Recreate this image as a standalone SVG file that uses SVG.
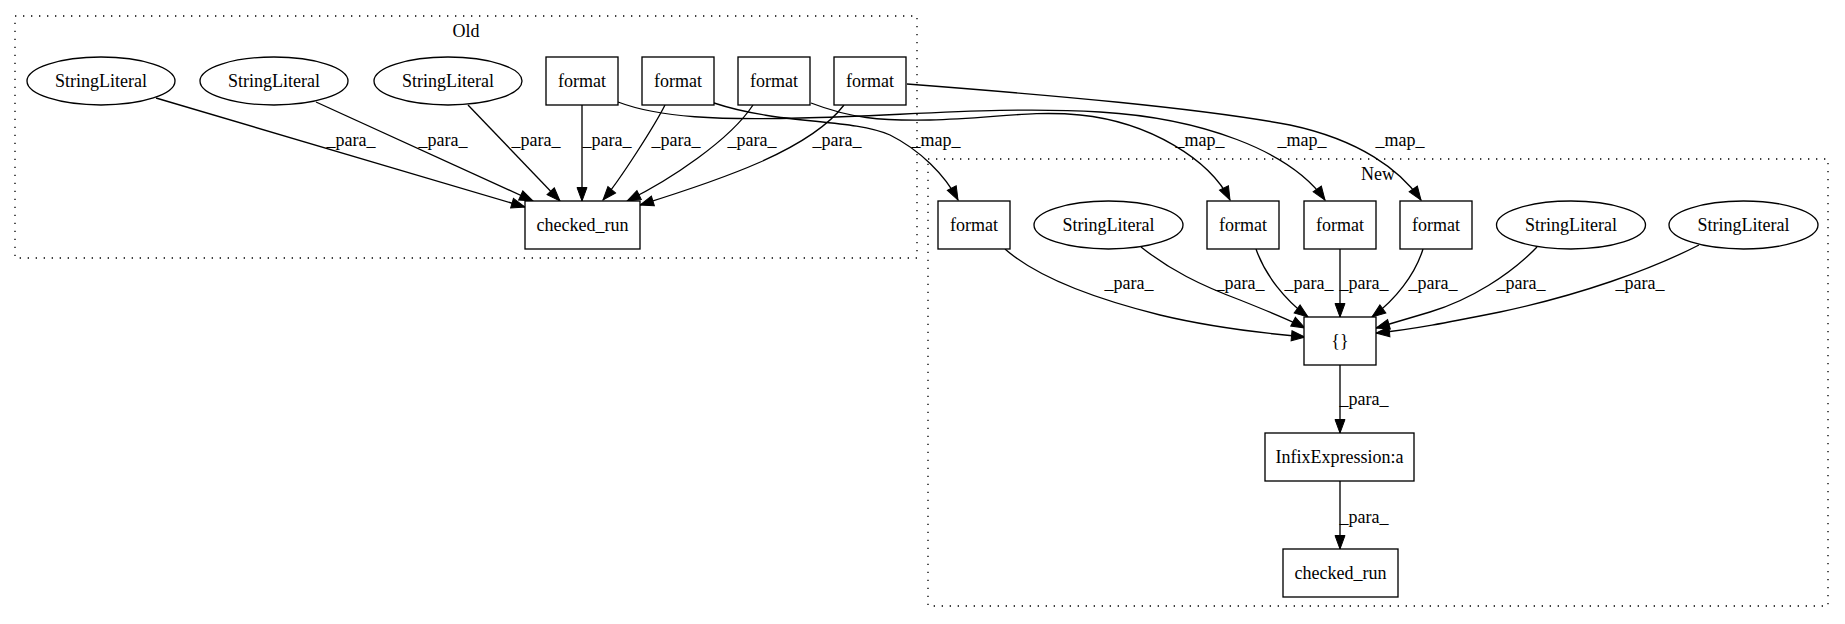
<svg xmlns="http://www.w3.org/2000/svg" width="1845" height="624" viewBox="0 0 1845 624">
<style>
text{font-family:"Liberation Serif","Times New Roman",serif;font-size:18px;fill:#000;text-anchor:middle}
.cl{fill:none;stroke:#000;stroke-width:1.33;stroke-dasharray:1.33,6.67}
.n{fill:#fff;stroke:#000;stroke-width:1.33}
.e{fill:none;stroke:#000;stroke-width:1.33;marker-end:url(#ah)}
</style>
<defs>
<marker id="ah" markerUnits="userSpaceOnUse" markerWidth="14" markerHeight="10" refX="13.5" refY="5" orient="auto" overflow="visible">
<path d="M0,0 L13.5,5 L0,10 z" fill="#000" stroke="#000" stroke-width="1"/>
</marker>
</defs>
<rect width="1845" height="624" fill="#fff"/>
<g id="cluster_old">
<rect class="cl" x="15" y="16" width="902" height="242"/>
<text x="466" y="37">Old</text>
</g>
<g id="cluster_new">
<rect class="cl" x="928" y="159" width="900" height="447"/>
<text x="1378" y="180">New</text>
</g>
<g id="edges">
<path class="e" d="M156,98 L525,207"/>
<path class="e" d="M316,102 L533,201"/>
<path class="e" d="M468,105 L560,201"/>
<path class="e" d="M582,105 L582,201"/>
<path class="e" d="M665,105 C655,125 620,180 603,200"/>
<path class="e" d="M753,105 C730,140 670,180 627,201"/>
<path class="e" d="M844,105 C810,150 720,180 640,205"/>
<path class="e" d="M714,103 C780,125 850,118 890,135 C920,150 945,175 958,200"/>
<path class="e" d="M618,102 C660,118 720,120 800,118 C900,116 1000,106 1100,112 C1200,118 1290,150 1325,200"/>
<path class="e" d="M811,103 C850,118 880,121 930,120 C990,119 1030,110 1080,115 C1150,122 1210,160 1230,200"/>
<path class="e" d="M907,84 C1050,95 1200,108 1290,125 C1360,140 1400,170 1421,200"/>
<path class="e" d="M1005,249 C1040,280 1100,300 1160,315 C1210,327 1260,333 1305,337"/>
<path class="e" d="M1141,247 C1170,270 1200,285 1240,300 C1265,310 1290,320 1305,328"/>
<path class="e" d="M1256,249 C1265,275 1285,300 1308,317"/>
<path class="e" d="M1340,249 L1340,317"/>
<path class="e" d="M1423,249 C1415,275 1395,300 1372,317"/>
<path class="e" d="M1537,247 C1510,275 1470,300 1430,312 C1410,318 1390,324 1376,328"/>
<path class="e" d="M1699,245 C1650,270 1580,295 1500,312 C1450,322 1410,330 1376,333"/>
<path class="e" d="M1340,365 L1340,433"/>
<path class="e" d="M1340,481 L1340,549"/>
<text x="351" y="146">_para_</text>
<text x="443" y="146">_para_</text>
<text x="536" y="146">_para_</text>
<text x="607" y="146">_para_</text>
<text x="676" y="146">_para_</text>
<text x="752" y="146">_para_</text>
<text x="837" y="146">_para_</text>
<text x="936" y="146">_map_</text>
<text x="1200" y="146">_map_</text>
<text x="1302" y="146">_map_</text>
<text x="1400" y="146">_map_</text>
<text x="1129" y="289">_para_</text>
<text x="1240" y="289">_para_</text>
<text x="1309" y="289">_para_</text>
<text x="1364" y="289">_para_</text>
<text x="1433" y="289">_para_</text>
<text x="1521" y="289">_para_</text>
<text x="1640" y="289">_para_</text>
<text x="1364" y="405">_para_</text>
<text x="1364" y="523">_para_</text>
</g>
<g id="old_sl1"><ellipse class="n" cx="101" cy="81" rx="74" ry="24"/><text x="101" y="87">StringLiteral</text></g>
<g id="old_sl2"><ellipse class="n" cx="274" cy="81" rx="74" ry="24"/><text x="274" y="87">StringLiteral</text></g>
<g id="old_sl3"><ellipse class="n" cx="448" cy="81" rx="74" ry="24"/><text x="448" y="87">StringLiteral</text></g>
<g id="old_f1"><rect class="n" x="546" y="57" width="72" height="48"/><text x="582" y="87">format</text></g>
<g id="old_f2"><rect class="n" x="642" y="57" width="72" height="48"/><text x="678" y="87">format</text></g>
<g id="old_f3"><rect class="n" x="738" y="57" width="72" height="48"/><text x="774" y="87">format</text></g>
<g id="old_f4"><rect class="n" x="834" y="57" width="72" height="48"/><text x="870" y="87">format</text></g>
<g id="old_checked_run"><rect class="n" x="525" y="201" width="115" height="48"/><text x="582.5" y="231">checked_run</text></g>
<g id="new_fa"><rect class="n" x="938" y="201" width="72" height="48"/><text x="974" y="231">format</text></g>
<g id="new_sla"><ellipse class="n" cx="1108.5" cy="225" rx="74.5" ry="24"/><text x="1108.5" y="231">StringLiteral</text></g>
<g id="new_fb"><rect class="n" x="1207" y="201" width="72" height="48"/><text x="1243" y="231">format</text></g>
<g id="new_fc"><rect class="n" x="1304" y="201" width="72" height="48"/><text x="1340" y="231">format</text></g>
<g id="new_fd"><rect class="n" x="1400" y="201" width="72" height="48"/><text x="1436" y="231">format</text></g>
<g id="new_slb"><ellipse class="n" cx="1571" cy="225" rx="74.5" ry="24"/><text x="1571" y="231">StringLiteral</text></g>
<g id="new_slc"><ellipse class="n" cx="1743.5" cy="225" rx="74.5" ry="24"/><text x="1743.5" y="231">StringLiteral</text></g>
<g id="new_braces"><rect class="n" x="1304" y="317" width="72" height="48"/><text x="1340" y="347">{}</text></g>
<g id="new_infix"><rect class="n" x="1265" y="433" width="149" height="48"/><text x="1339.5" y="463">InfixExpression:a</text></g>
<g id="new_checked_run"><rect class="n" x="1283" y="549" width="115" height="48"/><text x="1340.5" y="579">checked_run</text></g>
</svg>
